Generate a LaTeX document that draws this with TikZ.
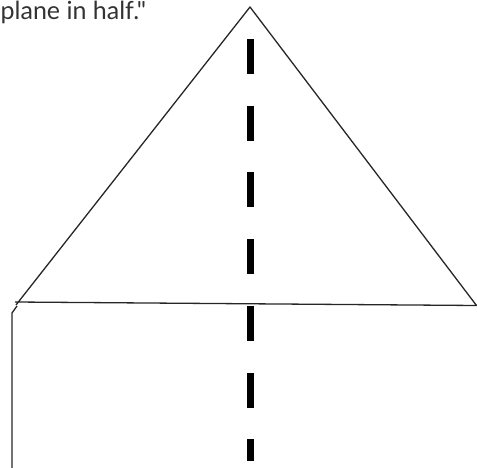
\documentclass[tikz,border=0pt]{standalone}
\usepackage{fontspec}
\newfontfamily\capfont{Lato}
\begin{document}
\begin{tikzpicture}[x=1pt,y=-1pt,
    edge/.style={black!85,line width=1.3pt,line join=round}]
  \useasboundingbox (0,0) rectangle (477,468);
  \node[anchor=base west,inner sep=0pt,text=black!80,font=\capfont\fontsize{25}{30}\selectfont] (caption) at (0.5,19.5)
    {plane in half."};
  % triangle
  \coordinate (apex) at (250,7);
  \coordinate (left) at (16,305);
  \coordinate (baseL) at (15,302);
  \coordinate (right) at (476.5,305.5);
  \draw[edge] (left) -- (apex) -- (right) -- (baseL);
  % sheet below
  \draw[edge] (17,306) -- (12,313) -- (12,468);
  % fold line
  \foreach \t/\l in {39/35,105.7/35,172.4/35,239.1/35,305.8/35,372.5/35,439.2/22}
    \fill[black] (246.7,\t) rectangle ++(7.6,\l);
\end{tikzpicture}
\end{document}
